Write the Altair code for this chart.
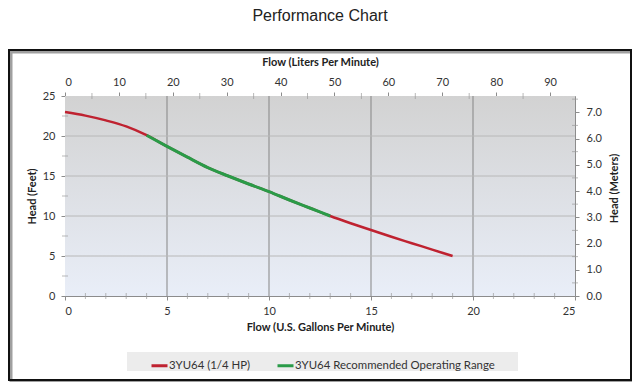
import altair as alt
import pandas as pd

# ---- data ----
gpm = [0, 1, 2, 3, 4, 5, 6, 7, 8, 9, 10, 11, 12, 13, 14, 15, 16, 17, 18, 19]
head_ft = [23.0, 22.55, 21.95, 21.2, 20.1, 18.7, 17.35, 16.05, 15.0, 14.0,
           13.05, 12.0, 11.0, 10.0, 9.1, 8.25, 7.4, 6.6, 5.8, 5.0]
range_start, range_end = 4, 13
series_names = ["3YU64 (1/4 HP)", "3YU64 Recommended Operating Range"]
series_colors = ["#bf2230", "#2a9b48"]

gpm_ticks = [0, 5, 10, 15, 20, 25]
ft_ticks = [0, 5, 10, 15, 20, 25]
lpm_ticks = [0, 10, 20, 30, 40, 50, 60, 70, 80, 90]
m_ticks = [0, 1, 2, 3, 4, 5, 6, 7]
grid_gpm = [5, 10, 15, 20]
grid_ft = [5, 10, 15, 20]
minor_gpm = [1, 2, 3, 4, 6, 7, 8, 9, 11, 12, 13, 14, 16, 17, 18, 19, 21, 22, 23, 24]
minor_ft = [2.5, 7.5, 12.5, 17.5, 22.5]
minor_lpm = [5, 15, 25, 35, 45, 55, 65, 75, 85]
minor_m = [0.5, 1.5, 2.5, 3.5, 4.5, 5.5, 6.5, 7.5]

GAL_TO_L = 3.78541
FT_TO_M = 0.3048
X_MAX = 25
Y_MAX = 25

red = pd.DataFrame({"gpm": gpm, "ft": head_ft, "series": series_names[0]})
green = red[(red.gpm >= range_start) & (red.gpm <= range_end)].copy()
green["series"] = series_names[1]

W, H = 510, 200
FONT = "Lato"

xs = alt.Scale(domain=[0, X_MAX], nice=False, zero=True)
ys = alt.Scale(domain=[0, Y_MAX], nice=False, zero=True)
lpm_scale = alt.Scale(domain=[0, X_MAX * GAL_TO_L], nice=False, zero=True)
m_scale = alt.Scale(domain=[0, Y_MAX * FT_TO_M], nice=False, zero=True)

axis_common = dict(
    labelFont=FONT, labelFontSize=11, labelColor="#333333",
    titleFont=FONT, titleFontSize=11, titleFontWeight="bold", titleColor="#222222",
    domainColor="#8c8c8c", tickColor="#8c8c8c", grid=False, tickSize=4,
    labelOverlap=False,
)

x_axis = alt.Axis(values=gpm_ticks, format="d", orient="bottom",
                  title="Flow (U.S. Gallons Per Minute)",
                  labelPadding=5, titlePadding=5, **axis_common)
y_axis = alt.Axis(values=ft_ticks, tickCount=6, format="d", orient="left",
                  title="Head (Feet)", labelPadding=6, titlePadding=5, **axis_common)
top_axis = alt.Axis(values=lpm_ticks, format="d", orient="top",
                    title="Flow (Liters Per Minute)", labelPadding=5,
                    titlePadding=9, **axis_common)
right_axis = alt.Axis(values=m_ticks, format=".1f", orient="right",
                      title="Head (Meters)", titleAngle=270, labelPadding=7,
                      titleX=44, titleY=92, **axis_common)

color_scale = alt.Scale(domain=series_names, range=series_colors)

one = alt.Data(values=[{}])

bg = alt.Chart(one).mark_rect(
    fill={"gradient": "linear", "x1": 0, "x2": 0, "y1": 0, "y2": 1,
          "stops": [{"offset": 0, "color": "#d2d2d2"},
                    {"offset": 1, "color": "#e9eef8"}]}
).encode(
    x=alt.datum(0, scale=xs, axis=x_axis),
    x2=alt.datum(X_MAX),
    y=alt.datum(0, scale=ys, axis=y_axis),
    y2=alt.datum(Y_MAX),
)

vgrid = alt.Chart(pd.DataFrame({"g": grid_gpm})).mark_rule(
    color="#858585", strokeWidth=1
).encode(x=alt.X("g:Q", scale=xs, axis=x_axis), y=alt.datum(0), y2=alt.datum(Y_MAX))

hgrid = alt.Chart(pd.DataFrame({"h": grid_ft})).mark_rule(
    color="#b8b8b8", strokeWidth=1
).encode(y=alt.Y("h:Q", scale=ys, axis=y_axis), x=alt.datum(0), x2=alt.datum(X_MAX))

minor_x = alt.Chart(pd.DataFrame({"g": minor_gpm})).mark_tick(
    orient="vertical", size=6, thickness=1, color="#9a9a9a"
).encode(x=alt.X("g:Q", scale=xs, axis=x_axis), y=alt.datum(0))

minor_y = alt.Chart(pd.DataFrame({"h": minor_ft})).mark_tick(
    orient="horizontal", size=6, thickness=1, color="#9a9a9a"
).encode(y=alt.Y("h:Q", scale=ys, axis=y_axis), x=alt.datum(0))

legend = alt.Legend(
    title=None, orient="none", direction="horizontal", legendX=85, legendY=260,
    symbolType="stroke", symbolSize=256, symbolStrokeWidth=3,
    labelFont=FONT, labelFontSize=11.4, labelColor="#333333", labelOffset=0,
    labelLimit=400, columnPadding=20, padding=0,
)

line_red = alt.Chart(red).mark_line(strokeWidth=2.5, interpolate="monotone").encode(
    x=alt.X("gpm:Q", scale=xs, axis=x_axis),
    y=alt.Y("ft:Q", scale=ys, axis=y_axis),
    color=alt.Color("series:N", scale=color_scale, legend=legend),
)
line_green = alt.Chart(green).mark_line(strokeWidth=3, interpolate="monotone").encode(
    x=alt.X("gpm:Q", scale=xs, axis=x_axis),
    y=alt.Y("ft:Q", scale=ys, axis=y_axis),
    color=alt.Color("series:N", scale=color_scale, legend=legend),
)

legend_bg = alt.Chart(one).mark_rect(fill="#ececec").encode(
    x=alt.value(62), x2=alt.value(453), y=alt.value(256), y2=alt.value(275)
)
shadow = alt.Chart(one).mark_rect(filled=False, stroke="#a0a0a0", strokeWidth=3).encode(
    x=alt.value(-54), x2=alt.value(568), y=alt.value(-44), y2=alt.value(286)
)
frame = alt.Chart(one).mark_rect(filled=False, stroke="#111111", strokeWidth=2).encode(
    x=alt.value(-56), x2=alt.value(566), y=alt.value(-46), y2=alt.value(284)
)
title = alt.Chart(one).mark_text(
    text="Performance Chart", font="Liberation Sans", fontSize=16, color="#222222",
    baseline="top"
).encode(x=alt.value(255), y=alt.value(-88))

base = alt.layer(bg, vgrid, hgrid, minor_x, minor_y, legend_bg, shadow, frame, title,
                 line_red, line_green)

sec_points = alt.Chart(
    pd.DataFrame({"lpm": [0, X_MAX * GAL_TO_L], "m": [0, Y_MAX * FT_TO_M]})
).mark_point(opacity=0).encode(
    x=alt.X("lpm:Q", scale=lpm_scale, axis=top_axis),
    y=alt.Y("m:Q", scale=m_scale, axis=right_axis),
)
minor_top = alt.Chart(pd.DataFrame({"lpm": minor_lpm})).mark_tick(
    orient="vertical", size=6, thickness=1, color="#9a9a9a"
).encode(x=alt.X("lpm:Q", scale=lpm_scale, axis=top_axis),
         y=alt.datum(Y_MAX * FT_TO_M, scale=m_scale, axis=right_axis))
minor_right = alt.Chart(pd.DataFrame({"m": minor_m})).mark_tick(
    orient="horizontal", size=6, thickness=1, color="#9a9a9a"
).encode(y=alt.Y("m:Q", scale=m_scale, axis=right_axis),
         x=alt.datum(X_MAX * GAL_TO_L, scale=lpm_scale, axis=top_axis))

secondary = alt.layer(sec_points, minor_top, minor_right)

chart = alt.layer(base, secondary).resolve_scale(
    x="independent", y="independent", color="shared"
).properties(
    width=W, height=H,
    autosize=alt.AutoSizeParams(type="none"),
    padding={"left": 57, "top": 88, "right": 57, "bottom": 86},
).configure_view(stroke="#8c8c8c", strokeWidth=1).configure_axis(
    labelOverlap=False
).configure(background="white")

chart.save("out.html", embed_options={"renderer": "svg", "actions": False})
